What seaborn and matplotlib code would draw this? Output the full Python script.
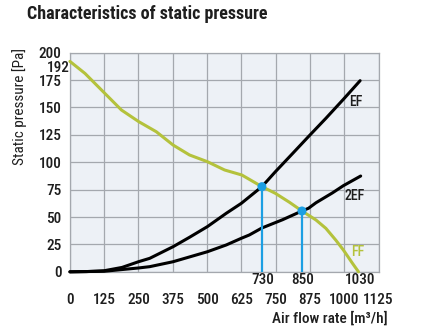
import matplotlib
matplotlib.use("Agg")
import matplotlib.pyplot as plt
import seaborn as sns
from matplotlib import font_manager

# ---- data ----
ff_x = [0, 55, 125, 188, 251, 315, 376, 436, 501, 564, 627, 700, 749, 800, 846, 897, 933, 969, 997, 1030, 1052]
ff_y = [192, 181, 163.4, 147.6, 137, 127.8, 115.7, 106.6, 100.5, 92.9, 88.3, 77.7, 71.6, 63.5, 55.5, 47.3, 39.7, 29, 19.9, 7.8, 0]

ef_x = [0, 60, 125, 190, 250, 291, 376, 436, 501, 570, 625, 700, 749, 812, 872, 933, 997, 1058]
ef_y = [0, 0.2, 1, 4, 9.2, 12.3, 22.9, 31.5, 41.2, 53.4, 62.5, 77.7, 91.3, 108, 124, 140, 157.4, 174.4]

ef2_x = [0, 125, 250, 291, 376, 501, 570, 625, 654, 700, 775, 846, 870, 897, 957, 997, 1060]
ef2_y = [0, 0.5, 3.5, 4.7, 9.2, 18.3, 24.5, 30.6, 33.6, 40, 47.5, 55.5, 58, 63, 72, 78.6, 87.4]

op_x = [700, 846]          # operating points (drawn positions)
op_y = [77.7, 55.5]
mark_x = [702, 849, 1058]  # positions of annotated flow labels
mark_text = ["730", "850", "1030"]

x_ticks = [0, 125, 250, 375, 500, 625, 750, 875, 1000, 1125]
y_ticks = [0, 25, 50, 75, 100, 125, 150, 175, 200]

curve_labels = ["EF", "2EF", "FF"]
curve_label_x = [1044, 1039, 1051]
curve_label_y = [155, 69, 18]

# ---- style ----
sns.set_theme(style="whitegrid")
names = {f.name for f in font_manager.fontManager.ttflist}
fam, stretch = "DejaVu Sans", "condensed"
for cand in ["Liberation Sans Narrow", "Roboto Condensed", "Open Sans Condensed"]:
    if cand in names:
        fam, stretch = cand, "normal"
        break
plt.rcParams["font.family"] = [fam, "DejaVu Sans"]
plt.rcParams["font.stretch"] = stretch
plt.rcParams["font.weight"] = "medium"

TXT = "#1e1e1e"
GRID = "#a4a8ae"
GREEN = "#b4c23c"
BLUE = "#1c9fe3"
TS = 11

fig = plt.figure(figsize=(4.26, 3.28), dpi=100)
fig.patch.set_facecolor("white")
ax = fig.add_axes([0.1641, 0.1713, 0.7244, 0.6683])
ax.set_facecolor("#edf1f6")

sns.lineplot(x=ff_x, y=ff_y, ax=ax, color=GREEN, lw=2.2, estimator=None, sort=False, zorder=3)
sns.lineplot(x=ef_x, y=ef_y, ax=ax, color="black", lw=2.2, estimator=None, sort=False, zorder=4)
sns.lineplot(x=ef2_x, y=ef2_y, ax=ax, color="black", lw=2.2, estimator=None, sort=False, zorder=4)
for ln in ax.lines:
    ln.set_clip_on(False)
    ln.set_solid_joinstyle("round")
    ln.set_solid_capstyle("round")

ax.vlines(op_x, 0, op_y, color=BLUE, lw=1.6, zorder=5)
sns.scatterplot(x=op_x, y=op_y, ax=ax, color=BLUE, s=42, edgecolor="none", zorder=6)

ax.set_xlim(0, 1125)
ax.set_ylim(0, 200)
ax.set_xticks(x_ticks)
ax.set_yticks(y_ticks)
ax.grid(True, color=GRID, lw=0.9)
ax.set_axisbelow(True)
for s in ax.spines.values():
    s.set_color(GRID)
    s.set_linewidth(0.9)

ax.tick_params(axis="x", length=0, pad=15, labelsize=TS, labelcolor=TXT)
ax.tick_params(axis="y", length=0, pad=6, labelsize=TS, labelcolor=TXT)

for t, xx in zip(mark_text, mark_x):
    ax.annotate(t, xy=(xx, 0), xytext=(0, -1), textcoords="offset points",
                ha="center", va="top", fontsize=TS, color=TXT, annotation_clip=False)

ax.annotate("192", xy=(0, 192), xytext=(0, 0), textcoords="offset points",
            ha="right", va="top", fontsize=TS, color=TXT, annotation_clip=False)

for lab, lx, ly, c in zip(curve_labels, curve_label_x, curve_label_y, [TXT, TXT, GREEN]):
    ax.text(lx, ly, lab, ha="center", va="center", fontsize=TS - 1, color=c, zorder=7)

ax.set_ylabel("Static pressure [Pa]", fontsize=TS, color=TXT)
ax.yaxis.set_label_coords(-0.14, 0.756)
ax.set_xlabel("")
fig.text(387.7 / 426, 1 - 318 / 328, "Air flow rate [m³/h]", ha="right", va="center",
         fontsize=TS, color=TXT)

fig.text(27 / 426, 1 - 5 / 328, "Characteristics of static pressure", ha="left", va="top",
         fontsize=13, fontweight="bold", color=TXT)

fig.savefig("out.png", dpi=100)
